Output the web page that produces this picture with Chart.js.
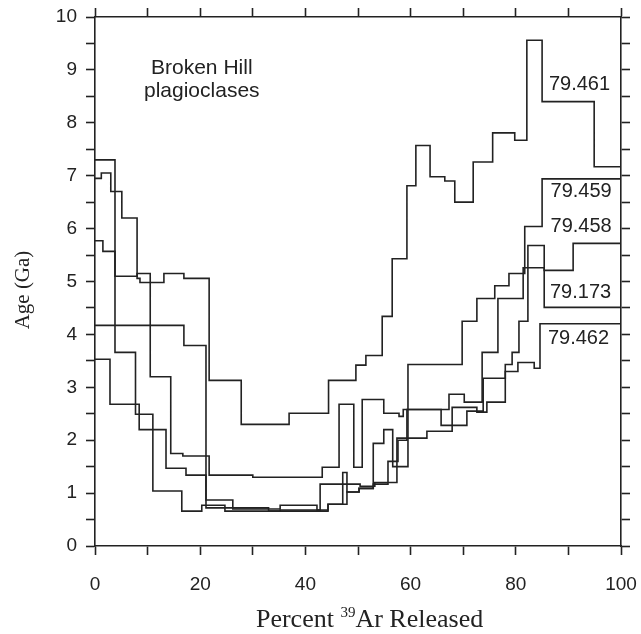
<!DOCTYPE html>
<html>
<head>
<meta charset="utf-8">
<script src="https://cdn.jsdelivr.net/npm/chart.js@4.4.0/dist/chart.umd.min.js"></script>
<style>
html, body { margin: 0; padding: 0; background: #fff; }
</style>
</head>
<body>
<canvas id="ageChart" width="641" height="634"></canvas>
<script>
// left edge of every heating step (percent 39Ar released); last entry closes the spectrum at 100
const x79461 = [0, 1.2, 3.0, 5.1, 8.0, 8.55, 13.1, 16.9, 21.7, 27.8, 36.9, 44.4, 49.6, 51.5, 54.6, 56.5, 59.3, 61.0, 63.7, 66.5, 68.4, 71.9, 75.6, 79.8, 82.1, 85.0, 94.9, 100];
const y79461 = [6.95, 7.05, 6.7, 6.2, 5.06, 4.98, 5.15, 5.06, 3.13, 2.3, 2.51, 3.13, 3.42, 3.6, 4.34, 5.43, 6.81, 7.57, 6.98, 6.9, 6.5, 7.26, 7.81, 7.67, 9.56, 8.4, 7.17, 7.17];

const x79459 = [0, 16.9, 21.1, 26.2, 35.2, 42.2, 44.3, 47.9, 50.2, 52.9, 54.9, 56.6, 59.5, 69.8, 72.6, 76.0, 78.7, 81.7, 85.0, 100];
const y79459 = [4.17, 3.79, 0.87, 0.7, 0.77, 0.68, 0.79, 1.02, 1.09, 1.94, 2.2, 1.5, 3.43, 4.25, 4.68, 4.92, 5.15, 6.04, 6.94, 6.94];

const x79458 = [0, 3.8, 8.0, 10.5, 14.4, 16.7, 21.7, 30, 43.2, 46.4, 49.2, 50.8, 54.9, 57.8, 58.6, 67.3, 70.2, 73.6, 76.6, 81.4, 85.4, 90.9, 100];
const y79458 = [7.3, 5.1, 5.15, 3.2, 1.75, 1.7, 1.34, 1.3, 1.49, 2.68, 1.49, 2.77, 2.51, 2.45, 2.58, 2.87, 2.72, 3.66, 4.68, 5.26, 5.21, 5.72, 5.72];

const x79173 = [0, 1.5, 3.8, 7.7, 11.0, 16.5, 20.3, 24.7, 35.2, 42.8, 50.4, 53.2, 57.4, 63.1, 67.9, 72.6, 74.5, 78.0, 79.3, 80.6, 82.3, 85.4, 100];
const y79173 = [5.77, 5.57, 3.66, 2.49, 1.04, 0.66, 0.77, 0.66, 0.68, 1.17, 1.13, 1.2, 2.04, 2.17, 2.62, 2.53, 2.72, 3.43, 3.66, 4.25, 5.68, 4.51, 4.51];

const x79462 = [0, 2.85, 8.4, 13.5, 17.3, 21.1, 33, 44.3, 47.1, 47.9, 50.2, 52.9, 55.7, 57.6, 59.3, 65.8, 70.7, 73.8, 78.0, 80.4, 83.5, 84.6, 100];
const y79462 = [3.53, 2.68, 2.2, 1.47, 1.34, 0.72, 0.66, 0.79, 1.39, 1.02, 1.09, 1.17, 1.6, 2.0, 2.58, 2.28, 2.55, 3.17, 3.3, 3.47, 3.36, 4.2, 4.2];

const sampleNames = ['79.461', '79.459', '79.458', '79.173', '79.462'];
const sampleX = [x79461, x79459, x79458, x79173, x79462];
const sampleY = [y79461, y79459, y79458, y79173, y79462];

// where each sample number sits (data units)
const nameAtX = [86.3, 86.6, 86.6, 86.5, 86.1];
const nameAtY = [8.72, 6.7, 6.04, 4.79, 3.92];

const ink = '#222';

const datasets = sampleNames.map((name, i) => ({
    label: name,
    data: sampleX[i].map((x, j) => ({x: x, y: sampleY[i][j]})),
    stepped: 'before',
    borderColor: ink,
    borderWidth: 1.6,
    pointRadius: 0,
    fill: false,
    xAxisID: 'x',
    yAxisID: 'y'
}));

const textPlugin = {
    id: 'textPlugin',
    afterDraw(chart) {
        const c = chart.ctx;
        const sx = chart.scales.x;
        const sy = chart.scales.y;
        c.save();
        c.fillStyle = ink;

        // sample numbers
        c.font = '20px "Liberation Sans", Arial, sans-serif';
        c.textAlign = 'left';
        c.textBaseline = 'middle';
        sampleNames.forEach((name, i) => {
            c.fillText(name, sx.getPixelForValue(nameAtX[i]), sy.getPixelForValue(nameAtY[i]));
        });

        // caption inside the plot
        c.font = '21px "Liberation Sans", Arial, sans-serif';
        c.textAlign = 'center';
        c.textBaseline = 'alphabetic';
        c.fillText('Broken Hill', sx.getPixelForValue(20.3), 74);
        c.fillText('plagioclases', sx.getPixelForValue(20.3), 97);

        // y title
        c.font = '21px "Liberation Serif", "Times New Roman", serif';
        c.save();
        c.translate(29, 290);
        c.rotate(-Math.PI / 2);
        c.textAlign = 'center';
        c.fillText('Age (Ga)', 0, 0);
        c.restore();

        // x title with superscript 39
        const big = '26px "Liberation Serif", "Times New Roman", serif';
        const small = '15px "Liberation Serif", "Times New Roman", serif';
        c.textAlign = 'left';
        c.font = big;
        const w1 = c.measureText('Percent ').width;
        const w3 = c.measureText('Ar Released').width;
        c.font = small;
        const w2 = c.measureText('39').width;
        let x0 = sx.getPixelForValue(52.2) - (w1 + w2 + w3) / 2;
        const base = 627;
        c.font = big;
        c.fillText('Percent ', x0, base);
        c.font = small;
        c.fillText('39', x0 + w1, base - 10);
        c.font = big;
        c.fillText('Ar Released', x0 + w1 + w2, base);
        c.restore();
    }
};

const tickFont = {family: '"Liberation Sans", Arial, sans-serif', size: 19};
const frame = {display: true, color: ink, width: 1.6};
const marks = {drawOnChartArea: false, drawTicks: true, tickLength: 9, tickColor: ink, tickWidth: 1.6};

function noPad(s) {
    s.paddingLeft = 0;
    s.paddingRight = 0;
    s.paddingTop = 0;
    s.paddingBottom = 0;
}

const ctx = document.getElementById('ageChart').getContext('2d');
const ageChart = new Chart(ctx, {
    type: 'line',
    data: {datasets: datasets},
    plugins: [textPlugin],
    options: {
        responsive: false,
        animation: false,
        layout: {padding: 0},
        plugins: {legend: {display: false}, tooltip: {enabled: false}},
        scales: {
            x: {
                type: 'linear', position: 'bottom', min: 0, max: 100,
                ticks: {stepSize: 10, autoSkip: false, maxRotation: 0, padding: 18, color: ink, font: tickFont,
                        callback: v => (v % 20 === 0 ? v : '')},
                grid: marks, border: frame,
                afterFit: s => { s.height = 88; noPad(s); }
            },
            x2: {
                type: 'linear', position: 'top', min: 0, max: 100,
                ticks: {stepSize: 10, display: false},
                grid: marks, border: frame,
                afterFit: s => { s.height = 17; noPad(s); }
            },
            y: {
                type: 'linear', position: 'left', min: 0, max: 10,
                ticks: {stepSize: 0.5, autoSkip: false, padding: 9, color: ink, font: tickFont,
                        callback: v => (Number.isInteger(v) ? v : '')},
                grid: marks, border: frame,
                afterFit: s => { s.width = 95; noPad(s); }
            },
            y2: {
                type: 'linear', position: 'right', min: 0, max: 10,
                ticks: {stepSize: 0.5, display: false},
                grid: marks, border: frame,
                afterFit: s => { s.width = 20; noPad(s); }
            }
        }
    }
});
</script>
</body>
</html>
